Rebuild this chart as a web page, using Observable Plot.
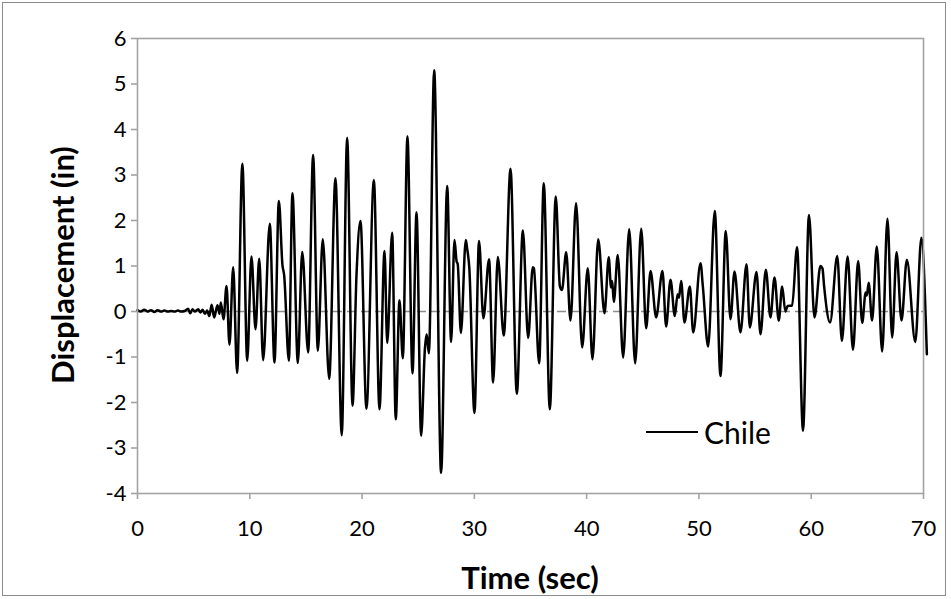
<!DOCTYPE html>
<html><head><meta charset="utf-8">
<script src="https://cdn.jsdelivr.net/npm/d3@7"></script>
<script src="https://cdn.jsdelivr.net/npm/@observablehq/plot@0.6"></script>
<style>
body{margin:0;background:#fff;}
#wrap{position:relative;width:951px;height:599px;overflow:hidden;font-family:Lato,"Open Sans",sans-serif;background:#fff;}
#border{position:absolute;left:2px;top:2px;width:944px;height:594px;border:1px solid #8c8c8c;box-sizing:border-box;}
#chart{position:absolute;left:0;top:0;}
.title{position:absolute;font-weight:bold;font-size:31px;color:#000;white-space:nowrap;line-height:1;}
#xtitle{left:530px;top:577px;transform:translate(-50%,-50%);}
#ytitle{left:62px;top:265px;transform:translate(-50%,-50%) rotate(-90deg);}
#legline{position:absolute;left:646px;top:431px;width:52px;height:2px;background:#000;}
#legtext{position:absolute;left:704px;top:432px;transform:translateY(-50%);font-size:30px;line-height:1;color:#000;}
</style>
</head><body>
<div id="wrap">
  <div id="border"></div>
  <div id="chart"></div>
  <div class="title" id="xtitle">Time (sec)</div>
  <div class="title" id="ytitle">Displacement (in)</div>
  <div id="legline"></div>
  <div id="legtext">Chile</div>
</div>
<script>
const seriesName = "Chile";
const xTicks = [0, 10, 20, 30, 40, 50, 60, 70];
const yTicks = [-4, -3, -2, -1, 0, 1, 2, 3, 4, 5, 6];
const timeSec = [
  0, 0.3, 0.6, 0.9, 1.2, 1.5, 1.8, 2.1, 2.4, 2.7, 3.0, 3.3, 3.6, 3.9, 4.2, 4.5, 4.7, 4.9, 5.1, 5.4, 5.6, 5.8, 6.0, 6.2, 6.4,
  6.6, 6.83, 7.12, 7.3, 7.42, 7.66, 7.93, 8.19, 8.52, 8.87, 9.34, 9.77, 10.15, 10.51, 10.84, 11.19, 11.78, 12.2, 12.59, 12.91, 13.06,
  13.48, 13.8, 14.28, 14.67, 15.2, 15.64, 16.06, 16.5, 17.07, 17.63, 18.19, 18.67, 19.15, 19.5, 19.86, 20.39, 21.05, 21.55,
  22.0, 22.24, 22.68, 23.0, 23.33, 23.63, 24.04, 24.49, 24.85, 25.26, 25.6, 25.75, 25.95, 26.42, 27.04, 27.58, 27.93, 28.23,
  28.42, 28.52, 28.8, 29.24, 29.35, 29.55, 30.01, 30.42, 30.8, 31.31, 31.67, 32.09, 32.62, 33.22, 33.78, 34.32, 34.79, 35.2,
  35.3, 35.77, 36.18, 36.72, 37.25, 37.62, 37.8, 38.18, 38.56, 39.06, 39.6, 40.1, 40.52, 41.03, 41.59, 41.97, 42.17, 42.27,
  42.42, 42.77, 43.25, 43.79, 44.32, 44.86, 45.3, 45.69, 46.19, 46.75, 47.08, 47.47, 47.85, 48.1, 48.22, 48.42, 48.71, 49.19,
  49.49, 50.14, 50.35, 50.82, 51.41, 51.92, 52.39, 52.81, 53.17, 53.7, 54.24, 54.53, 55.13, 55.48, 55.96, 56.37, 56.73, 57.11,
  57.41, 57.7, 57.9, 58.3, 58.74, 59.27, 59.8, 60.29, 60.82, 61.0, 61.15, 61.68, 62.32, 62.73, 63.24, 63.72, 64.18, 64.54,
  64.85, 64.95, 65.12, 65.42, 65.84, 66.32, 66.79, 67.21, 67.6, 68.04, 68.52, 69.27, 69.81, 70.3
];
// displacement (in) at those times
const dispIn = [
  0.03, 0.0, 0.04, 0.0, 0.03, -0.01, 0.03, 0.0, 0.02, 0.0, 0.01, 0.0, 0.02, 0.0, 0.01, 0.06, -0.04, 0.05, 0.0, 0.05, -0.02, 0.04, -0.05, 0.02, -0.1,
  0.15, -0.13, 0.14, -0.05, 0.2, -0.17, 0.56, -0.73, 0.97, -1.35, 3.25, -1.08, 1.21, -0.39, 1.16, -1.07, 1.93, -1.12, 2.43, 1.02, 0.8,
  -1.08, 2.6, -1.13, 1.31, -0.9, 3.44, -0.86, 1.59, -1.48, 2.93, -2.72, 3.82, -2.07, 0.78, 1.99, -2.14, 2.89, -2.15,
  1.33, -0.69, 1.73, -2.37, 0.25, -1.03, 3.85, -1.36, 2.18, -2.73, -0.8, -0.5, -0.92, 5.3, -3.55, 2.76, -0.67, 1.57,
  1.1, 1.04, -0.47, 1.57, 1.4, 0.96, -2.23, 1.55, -0.15, 1.15, -1.56, 1.2, -0.53, 3.14, -1.81, 1.78, -0.58, 0.97,
  0.95, -1.14, 2.82, -2.15, 2.53, 0.55, 0.47, 1.3, -0.2, 2.38, -0.79, 0.95, -1.05, 1.59, -0.04, 1.19, 0.53, 0.67,
  0.21, 1.24, -1.01, 1.81, -1.14, 1.82, -0.37, 0.89, -0.13, 0.89, -0.33, 0.7, -0.1, 0.38, 0.3, 0.67, -0.24, 0.55,
  -0.46, 1.06, 0.55, -0.77, 2.21, -1.42, 1.77, -0.17, 0.88, -0.46, 1.04, -0.35, 0.87, -0.5, 0.92, -0.13, 0.75, -0.2,
  0.55, 0.0, 0.12, 0.13, 1.41, -2.62, 2.12, -0.13, 1.0, 0.95, 0.55, -0.24, 1.22, -0.65, 1.21, -0.84, 1.11, -0.25,
  0.42, 0.35, 0.63, -0.2, 1.43, -0.88, 2.04, -0.57, 1.3, -0.2, 1.14, -0.67, 1.62, -0.94
];
const data = timeSec.map((t, i) => ({t, v: dispIn[i], series: seriesName}));

const plot = Plot.plot({
  width: 951,
  height: 599,
  marginLeft: 137,
  marginRight: 28,
  marginTop: 38,
  marginBottom: 106,
  style: {fontFamily: "Lato, 'Open Sans', sans-serif", fontSize: "22px", color: "#000", background: "transparent", overflow: "visible"},
  x: {domain: [0, 70]},
  y: {domain: [-4, 6]},
  marks: [
    Plot.ruleY([0], {stroke: "#8c8c8c", strokeWidth: 1.5, strokeDasharray: "9,5"}),
    Plot.line(data, {x: "t", y: "v", curve: "monotone-x", stroke: "#000", strokeWidth: 2.5}),
    Plot.frame({stroke: "#a3a3a3", strokeWidth: 1.6}),
    Plot.axisY(yTicks, {tickSize: 6, tickPadding: 5, stroke: "#a3a3a3", fill: "#000", strokeWidth: 1.6, label: null, tickFormat: d => String(d)}),
    Plot.axisX(xTicks, {tickSize: 6, tickPadding: 21, stroke: "#a3a3a3", fill: "#000", strokeWidth: 1.6, label: null, tickFormat: d => String(d)})
  ]
});
document.getElementById("chart").appendChild(plot);
</script>
</body></html>
